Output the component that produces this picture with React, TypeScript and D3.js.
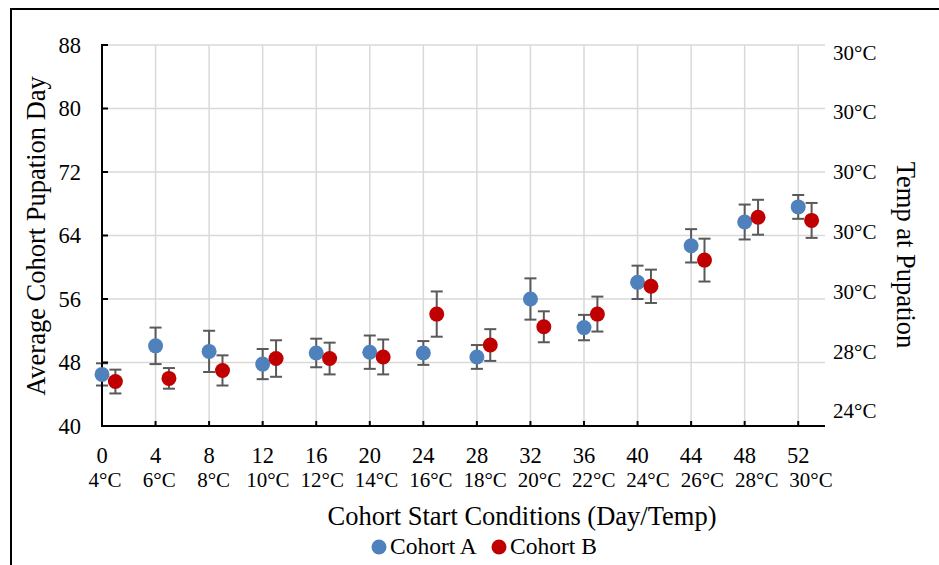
import React from "react";
import * as d3 from "d3";

// start day of each cohort and the temperature on that day
const startDays = [0, 4, 8, 12, 16, 20, 24, 28, 32, 36, 40, 44, 48, 52];
const startTemps = ["4°C", "6°C", "8°C", "10°C", "12°C", "14°C", "16°C", "18°C", "20°C", "22°C", "24°C", "26°C", "28°C", "30°C"];

// average pupation day (+/- error) per cohort
const cohortA = [46.5, 50.1, 49.4, 47.8, 49.2, 49.3, 49.2, 48.7, 56.0, 52.4, 58.1, 62.7, 65.7, 67.6];
const cohortAErr = [1.4, 2.3, 2.6, 1.9, 1.8, 2.1, 1.5, 1.5, 2.6, 1.6, 2.1, 2.1, 2.2, 1.5];
const cohortB = [45.6, 46.0, 47.0, 48.5, 48.5, 48.7, 54.1, 50.2, 52.5, 54.1, 57.6, 60.9, 66.3, 65.9];
const cohortBErr = [1.5, 1.3, 1.9, 2.3, 2.0, 2.2, 2.85, 2.0, 1.95, 2.2, 2.1, 2.7, 2.2, 2.2];

const yTicks = [40, 48, 56, 64, 72, 80, 88];
const rightTicks = ["24°C", "28°C", "30°C", "30°C", "30°C", "30°C", "30°C"];

const W = 939;
const H = 565;
const FONT = "'Liberation Serif', 'Times New Roman', serif";
const BLUE = "#4f81bd";
const RED = "#c00000";
const ERR = "#595959";

const App = () => {
  const x = d3.scaleLinear().domain([0, 54]).range([102, 825]);
  const y = d3.scaleLinear().domain([40, 88]).range([426, 45]);
  // secondary axis labels sit on their own spacing
  const yRight = d3.scaleLinear().domain([-0.25, 6.12]).range([426, 45]);
  const tempX = d3.scaleLinear().domain([0, 13]).range([105, 811]);

  const series = [
    { name: "Cohort A", vals: cohortA, errs: cohortAErr, offset: 0, color: BLUE },
    { name: "Cohort B", vals: cohortB, errs: cohortBErr, offset: 1, color: RED },
  ];

  return (
    <svg
      width={W}
      height={H}
      style={{ position: "absolute", left: 0, top: 0, background: "#fff" }}
      fontFamily={FONT}
    >
      <rect x={11} y={9} width={W + 10} height={H + 10} fill="#fff" stroke="#000" strokeWidth={2} />

      {/* gridlines */}
      {yTicks.filter((t) => t > 40).map((t) => (
        <line key={"h" + t} x1={x(0)} x2={x(54)} y1={y(t)} y2={y(t)} stroke="#d9d9d9" strokeWidth={1.5} />
      ))}
      {startDays.filter((d) => d > 0).map((d) => (
        <line key={"v" + d} x1={x(d)} x2={x(d)} y1={y(88)} y2={y(40)} stroke="#d9d9d9" strokeWidth={1.5} />
      ))}

      {/* error bars */}
      {series.map((s) =>
        s.vals.map((v, i) => {
          const cx = x(startDays[i] + s.offset);
          const top = y(v + s.errs[i]);
          const bot = y(v - s.errs[i]);
          return (
            <g key={s.name + "e" + i} stroke={ERR} strokeWidth={2}>
              <line x1={cx} x2={cx} y1={top} y2={bot} />
              <line x1={cx - 6} x2={cx + 6} y1={top} y2={top} />
              <line x1={cx - 6} x2={cx + 6} y1={bot} y2={bot} />
            </g>
          );
        })
      )}

      {/* axes */}
      <line x1={x(0)} x2={x(0)} y1={y(88) - 1} y2={y(40)} stroke="#000" strokeWidth={2} />
      <line x1={x(0) - 1} x2={x(54)} y1={y(40)} y2={y(40)} stroke="#000" strokeWidth={2} />
      {yTicks.map((t) => (
        <line key={"yt" + t} x1={x(0)} x2={x(0) + 6} y1={y(t)} y2={y(t)} stroke="#000" strokeWidth={2} />
      ))}
      {startDays.map((d) => (
        <line key={"xt" + d} x1={x(d)} x2={x(d)} y1={y(40)} y2={y(40) - 5} stroke="#000" strokeWidth={2} />
      ))}

      {/* markers */}
      {series.map((s) =>
        s.vals.map((v, i) => (
          <circle key={s.name + "p" + i} cx={x(startDays[i] + s.offset)} cy={y(v)} r={7.5} fill={s.color} />
        ))
      )}

      {/* left tick labels */}
      {yTicks.map((t) => (
        <text key={"yl" + t} x={81} y={y(t)} dy="0.35em" textAnchor="end" fontSize={22.5} fill="#000">
          {t}
        </text>
      ))}
      {/* right tick labels */}
      {rightTicks.map((t, i) => (
        <text key={"rl" + i} x={833} y={yRight(i)} dy="0.35em" textAnchor="start" fontSize={21} fill="#000">
          {t}
        </text>
      ))}
      {/* x tick labels */}
      {startDays.map((d, i) => (
        <g key={"xl" + d}>
          <text x={x(d)} y={463} textAnchor="middle" fontSize={22.5} fill="#000">
            {d}
          </text>
          <text x={tempX(i)} y={487} textAnchor="middle" fontSize={21} fill="#000">
            {startTemps[i]}
          </text>
        </g>
      ))}

      {/* axis titles */}
      <text x={522} y={525} textAnchor="middle" fontSize={26.5} fill="#000">
        Cohort Start Conditions (Day/Temp)
      </text>
      <text transform="translate(45,236) rotate(-90)" textAnchor="middle" fontSize={26.5} fill="#000">
        Average Cohort Pupation Day
      </text>
      <text transform="translate(897,255) rotate(90)" textAnchor="middle" fontSize={26.5} fill="#000">
        Temp at Pupation
      </text>

      {/* legend */}
      {series.map((s, i) => (
        <g key={"lg" + i} transform={`translate(${[379, 499][i]},547)`}>
          <circle cx={0} cy={0} r={7.5} fill={s.color} />
          <text x={11} y={6.5} fontSize={23.5} fill="#000">
            {s.name}
          </text>
        </g>
      ))}
    </svg>
  );
};

export default App;
